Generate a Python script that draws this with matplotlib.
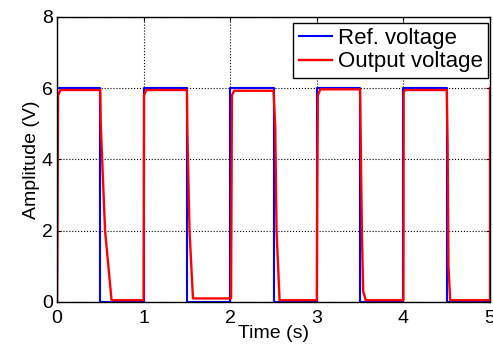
import matplotlib
matplotlib.use('Agg')
import matplotlib.pyplot as plt

plt.rcParams['font.family'] = ['Liberation Sans', 'DejaVu Sans']

# reference square wave (breakpoints)
ref_t = [0, 0, 0.5, 0.5, 1, 1, 1.5, 1.5, 2, 2, 2.5, 2.5, 3, 3, 3.5, 3.5,
         4, 4, 4.5, 4.5, 5, 5]
ref_v = [0, 6, 6, 0, 0, 6, 6, 0, 0, 6, 6, 0, 0, 6, 6, 0,
         0, 6, 6, 0, 0, 6]

out_t = [0, 0.005, 0.012, 0.04, 0.5, 0.505, 0.555, 0.63, 1.0,
         1.005, 1.03, 1.5, 1.505, 1.53, 1.57, 2.0,
         2.01, 2.02, 2.045, 2.5, 2.52, 2.535, 2.57, 3.0,
         3.005, 3.012, 3.04, 3.5, 3.505, 3.52, 3.535, 3.565, 4.0,
         4.003, 4.02, 4.5, 4.51, 4.52, 4.54, 5.0, 5.0]
out_v = [0, 1.8, 5.8, 5.95, 5.95, 5.0, 2.0, 0.05, 0.05,
         5.8, 5.95, 5.95, 4.8, 2.0, 0.1, 0.1,
         0.1, 5.8, 5.93, 5.93, 4.9, 2.0, 0.05, 0.05,
         3.0, 5.8, 5.97, 5.97, 4.9, 2.0, 0.3, 0.05, 0.05,
         5.9, 5.95, 5.95, 4.4, 1.0, 0.05, 0.05, 6.0]

fig = plt.figure(figsize=(4.93, 3.49), dpi=100)
ax = fig.add_axes([0.1156, 0.1347, 0.8784, 0.8166])

ax.plot(ref_t, ref_v, color='#0000ff', lw=1.5, label='Ref. voltage')
ax.plot(out_t, out_v, color='#ff0000', lw=1.7, label='Output voltage')

ax.set_xlim(0, 5)
ax.set_ylim(0, 8)
ax.set_xticks([0, 1, 2, 3, 4, 5])
ax.set_yticks([0, 2, 4, 6, 8])
ax.tick_params(direction='in', labelsize=14, length=3, width=0.8,
               top=True, right=True)
ax.tick_params(axis='x', pad=6)
ax.tick_params(axis='y', pad=3)
ax.grid(True, color='black', linestyle=':', linewidth=0.8)
for s in ax.spines.values():
    s.set_linewidth(1.0)

ax.set_xlabel('Time (s)', fontsize=14, labelpad=-2)
ax.set_ylabel('Amplitude (V)', fontsize=14, labelpad=1)

leg = ax.legend(loc='upper right', bbox_to_anchor=(0.9954, 0.98),
                fontsize=16, fancybox=False, edgecolor='black',
                framealpha=1, borderaxespad=0, handlelength=1.5,
                handletextpad=0.25, borderpad=0.25, labelspacing=0.1)
leg.get_frame().set_linewidth(1.0)

fig.savefig('out.png', dpi=100)
